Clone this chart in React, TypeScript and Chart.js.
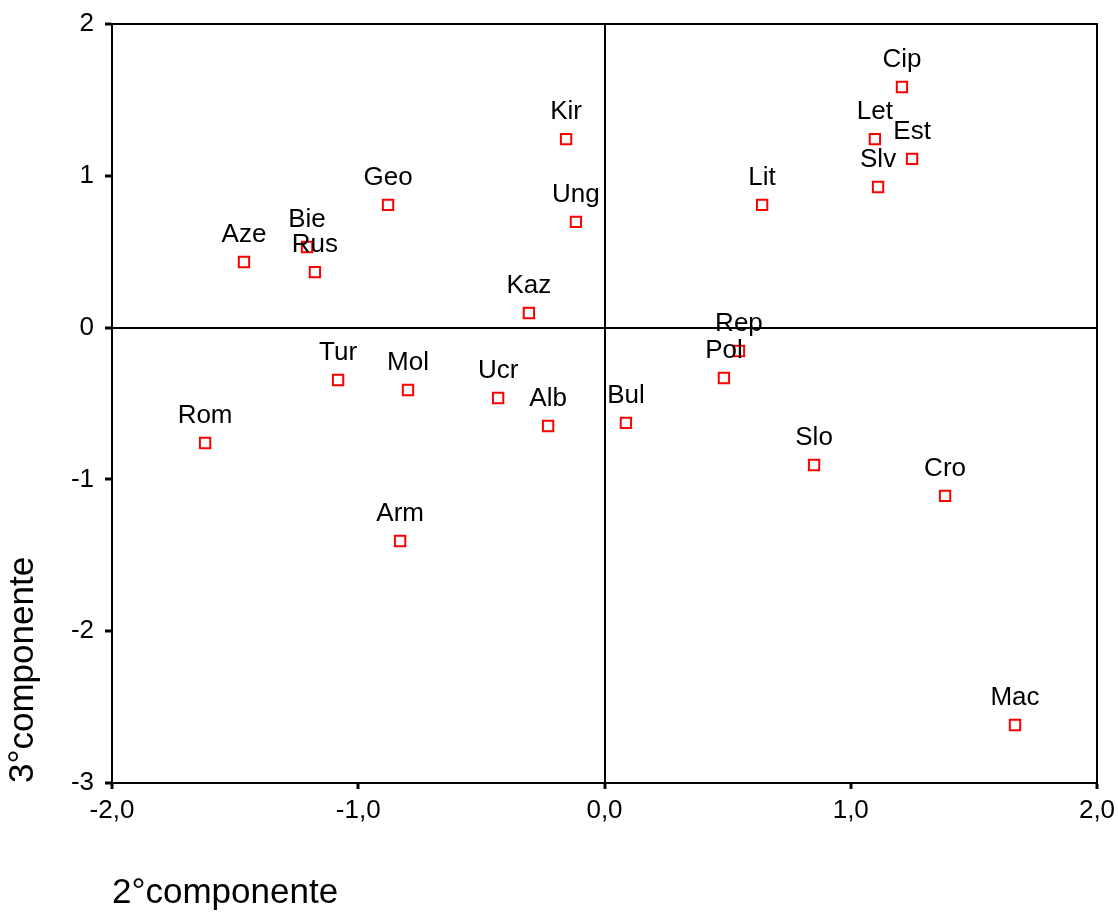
import React, { useEffect, useRef } from "react";
import { Chart, registerables } from "chart.js";

Chart.register(...registerables);

const countries = ["Cip", "Let", "Est", "Slv", "Lit", "Kir", "Ung", "Geo", "Bie", "Rus", "Aze", "Kaz", "Rep", "Pol", "Tur", "Mol", "Ucr", "Alb", "Bul", "Rom", "Slo", "Cro", "Arm", "Mac"];
const comp2 = [1.208, 1.098, 1.249, 1.111, 0.640, -0.156, -0.116, -0.879, -1.208, -1.176, -1.464, -0.307, 0.546, 0.485, -1.082, -0.798, -0.432, -0.229, 0.087, -1.622, 0.851, 1.383, -0.830, 1.667];
const comp3 = [1.585, 1.242, 1.111, 0.926, 0.808, 1.242, 0.696, 0.808, 0.531, 0.366, 0.432, 0.096, -0.154, -0.332, -0.345, -0.411, -0.464, -0.648, -0.628, -0.760, -0.905, -1.109, -1.406, -2.618];
const xTicks = [-2, -1, 0, 1, 2];
const yTicks = [-3, -2, -1, 0, 1, 2];

const FONT = 'Arial, "Liberation Sans", sans-serif';

const labelPlugin = {
  id: "pointLabels",
  afterDatasetsDraw(chart: any) {
    const ctx = chart.ctx;
    const meta = chart.getDatasetMeta(0);
    ctx.save();
    ctx.font = `26px ${FONT}`;
    ctx.fillStyle = "#000";
    ctx.textAlign = "center";
    ctx.textBaseline = "alphabetic";
    meta.data.forEach((el: any, i: number) => {
      ctx.fillText(countries[i], el.x, el.y - 20);
    });
    ctx.restore();
  },
};

const framePlugin = {
  id: "frame",
  beforeDatasetsDraw(chart: any) {
    const { ctx, chartArea } = chart;
    ctx.save();
    ctx.strokeStyle = "#000";
    ctx.lineWidth = 2;
    ctx.beginPath();
    ctx.moveTo(chartArea.left, chartArea.top);
    ctx.lineTo(chartArea.right, chartArea.top);
    ctx.lineTo(chartArea.right, chartArea.bottom);
    ctx.stroke();
    ctx.restore();
  },
};

export default function App() {
  const ref = useRef<HTMLCanvasElement>(null);
  useEffect(() => {
    if (!ref.current) return;
    const points = comp2.map((x, i) => ({ x, y: comp3[i] }));
    const chart = new Chart(ref.current, {
      type: "scatter",
      data: {
        datasets: [
          {
            data: points,
            pointStyle: "rect",
            pointRadius: 7.3,
            pointBorderWidth: 2,
            pointBorderColor: "#ff0000",
            pointBackgroundColor: "#ffffff",
            pointHoverRadius: 7.3,
          },
        ],
      },
      options: {
        animation: false,
        responsive: false,
        devicePixelRatio: 1,
        layout: { padding: { top: 24, right: 21, left: 0, bottom: 0 } },
        plugins: { legend: { display: false }, tooltip: { enabled: false } },
        scales: {
          x: {
            type: "linear",
            min: -2,
            max: 2,
            afterFit: (s: any) => {
              s.height = 131;
              s.paddingLeft = 0;
              s.paddingRight = 0;
            },
            afterBuildTicks: (s: any) => { s.ticks = xTicks.map((v) => ({ value: v })); },
            ticks: {
              color: "#000",
              font: { family: FONT, size: 26 },
              padding: 6,
              maxRotation: 0,
              callback: (v: any) => Number(v).toFixed(1).replace(".", ","),
            },
            grid: {
              color: (c: any) => (c.tick && c.tick.value === 0 ? "#000" : "rgba(0,0,0,0)"),
              lineWidth: 2,
              tickColor: "#000",
              tickWidth: 3,
              tickLength: 6,
            },
            border: { display: true, color: "#000", width: 2 },
            title: {
              display: true,
              text: "2°componente",
              align: "start",
              color: "#000",
              font: { family: FONT, size: 35 },
              padding: { top: 0, bottom: 0 },
            },
          },
          y: {
            type: "linear",
            min: -3,
            max: 2,
            afterFit: (s: any) => {
              s.width = 112;
              s.paddingTop = 0;
              s.paddingBottom = 0;
            },
            afterBuildTicks: (s: any) => { s.ticks = yTicks.map((v) => ({ value: v })); },
            ticks: {
              color: "#000",
              font: { family: FONT, size: 26 },
              padding: 11,
              callback: (v: any) => String(v),
            },
            grid: {
              color: (c: any) => (c.tick && c.tick.value === 0 ? "#000" : "rgba(0,0,0,0)"),
              lineWidth: 2,
              tickColor: "#000",
              tickWidth: 3,
              tickLength: 7,
            },
            border: { display: true, color: "#000", width: 2 },
            title: {
              display: true,
              text: "3°componente",
              align: "start",
              color: "#000",
              font: { family: FONT, size: 35 },
              padding: { top: 2, bottom: 0 },
            },
          },
        },
      },
      plugins: [framePlugin, labelPlugin],
    });
    return () => chart.destroy();
  }, []);
  return (
    <div style={{ position: "absolute", left: 0, top: 0, width: 1118, height: 914, background: "#fff" }}>
      <canvas ref={ref} width={1118} height={914} style={{ display: "block" }} />
    </div>
  );
}
